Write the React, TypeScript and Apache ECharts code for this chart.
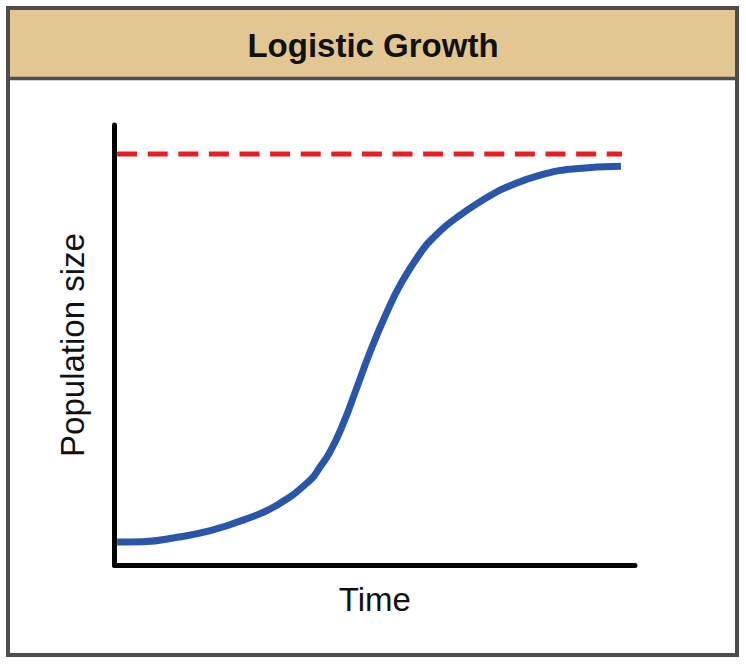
import { useEffect, useRef } from 'react';
import * as echarts from 'echarts';

// time (0–100) and population (0–100, axis top)
const timeValues = [0.5, 5.5, 12.0, 18.4, 24.7, 31.2, 37.6, 39.5, 41.4, 43.9, 46.4, 49.1, 52.0, 55.2, 59.3, 61.6, 63.9, 66.4, 68.7, 72.7, 75.4, 81.8, 88.1, 97.3];
const populationValues = [5.2, 5.3, 6.3, 7.8, 10.2, 13.6, 19.3, 22.3, 25.7, 32.0, 39.8, 48.4, 56.6, 64.3, 71.8, 74.8, 77.3, 79.5, 81.4, 84.3, 85.9, 88.6, 90.0, 90.6];

// carrying capacity (dashed line) and its extent on the time axis
const carryingCapacity = 93.4;
const capacityTimeRange = [0.5, 97.5];

const TITLE = 'Logistic Growth';
const X_NAME = 'Time';
const Y_NAME = 'Population size';

const FONT = '"Liberation Sans", Arial, sans-serif';

export default function App() {
  const ref = useRef<HTMLDivElement>(null);

  useEffect(() => {
    if (!ref.current) return;
    const chart = echarts.init(ref.current, undefined, { renderer: 'svg' });

    const curve = timeValues.map((t, i) => [t, populationValues[i]]);
    const capacity = capacityTimeRange.map((t) => [t, carryingCapacity]);

    chart.setOption({
      animation: false,
      backgroundColor: '#ffffff',
      title: {
        text: TITLE,
        left: 'center',
        top: 29,
        padding: 0,
        textStyle: { fontSize: 33, fontWeight: 'bold', color: '#111', fontFamily: FONT },
      },
      graphic: [
        {
          type: 'rect',
          z: -10,
          shape: { x: 10, y: 10, width: 725, height: 67 },
          style: { fill: '#e2c792' },
        },
        {
          type: 'line',
          z: -10,
          shape: { x1: 10, y1: 78.5, x2: 735, y2: 78.5 },
          style: { stroke: '#4d4d4d', lineWidth: 3.5 },
        },
        {
          type: 'rect',
          z: -10,
          shape: { x: 8, y: 8, width: 729, height: 647 },
          style: { fill: 'none', stroke: '#4d4d4d', lineWidth: 4 },
        },
      ],
      grid: { left: 114.5, right: 111, top: 125, bottom: 99, containLabel: false },
      xAxis: {
        type: 'value',
        min: 0,
        max: 100,
        name: X_NAME,
        nameLocation: 'middle',
        nameGap: 18,
        nameTextStyle: { fontSize: 33, color: '#111', fontFamily: FONT },
        axisLine: { show: true, lineStyle: { color: '#000', width: 5 } },
        axisTick: { show: false },
        axisLabel: { show: false },
        splitLine: { show: false },
      },
      yAxis: {
        type: 'value',
        min: 0,
        max: 100,
        name: Y_NAME,
        nameLocation: 'middle',
        nameGap: 26,
        nameRotate: 90,
        nameTextStyle: { fontSize: 33, color: '#111', fontFamily: FONT },
        axisLine: { show: true, lineStyle: { color: '#000', width: 5 } },
        axisTick: { show: false },
        axisLabel: { show: false },
        splitLine: { show: false },
      },
      series: [
        {
          name: 'Carrying capacity',
          type: 'line',
          data: capacity,
          showSymbol: false,
          silent: true,
          lineStyle: { color: '#ec1c24', width: 5, type: [20, 10.6] },
        },
        {
          name: 'Population',
          type: 'line',
          data: curve,
          smooth: 0.5,
          showSymbol: false,
          silent: true,
          lineStyle: { color: '#2a56aa', width: 7 },
        },
      ],
    });

    return () => chart.dispose();
  }, []);

  return (
    <div
      ref={ref}
      style={{ position: 'fixed', left: 0, top: 0, width: 746, height: 664 }}
    />
  );
}
